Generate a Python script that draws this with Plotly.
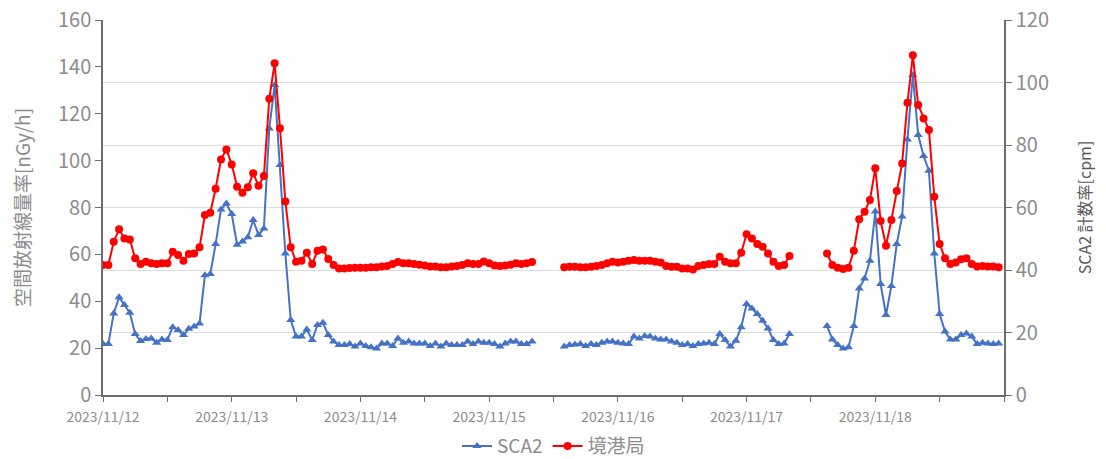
import pandas as pd
import plotly.graph_objects as go

# hourly timestamps, 2023/11/12 00:00 .. 2023/11/18 23:00
times = pd.date_range("2023-11-12 00:00", periods=168, freq="h")
# day tick positions / labels
day_ticks = pd.date_range("2023-11-12", periods=7, freq="D")
day_labels = ["2023/11/12", "2023/11/13", "2023/11/14", "2023/11/15",
              "2023/11/16", "2023/11/17", "2023/11/18"]

# 境港局 air dose rate [nGy/h]
red_day1 = [55.5, 55.5, 65.4, 70.7, 66.8, 66.4, 58.3, 55.9, 56.9, 56.2, 55.9, 56.2,
            56.2, 61.1, 59.7, 57.3, 60.2, 60.4, 63.0, 76.8, 77.8, 88.0, 100.5, 104.8]
red_day2 = [98.4, 88.9, 86.3, 88.6, 94.6, 89.3, 93.4, 126.4, 141.5, 113.8, 82.6, 63.0,
            56.9, 57.3, 60.7, 55.9, 61.6, 62.1, 58.0, 55.5, 54.0, 54.0, 54.2, 54.3]
red_day3 = [54.3, 54.3, 54.5, 54.5, 54.8, 55.0, 55.9, 56.7, 56.2, 56.2, 55.9, 55.6,
            55.3, 54.8, 54.8, 54.5, 54.5, 54.8, 55.0, 55.5, 56.2, 55.9, 55.9, 57.0]
red_day4 = [56.2, 55.3, 55.0, 55.3, 55.6, 56.2, 55.9, 56.2, 56.7, None, None, None,
            None, None, 54.5, 54.7, 54.7, 54.5, 54.5, 54.7, 55.0, 55.5, 56.2, 56.9]
red_day5 = [56.5, 56.9, 57.3, 57.6, 57.3, 57.3, 57.3, 56.9, 56.5, 55.0, 54.7, 54.7,
            54.0, 54.0, 53.6, 55.0, 55.5, 55.9, 55.9, 59.0, 56.9, 56.2, 56.2, 60.7]
red_day6 = [68.6, 66.8, 64.4, 63.3, 60.4, 56.9, 55.0, 55.5, 59.3, None, None, None,
            None, None, None, 60.4, 55.5, 54.3, 53.8, 54.3, 61.6, 75.0, 78.2, 83.2]
red_day7 = [96.7, 74.2, 63.7, 74.7, 87.0, 98.8, 124.7, 145.0, 123.7, 118.0, 113.1, 84.6,
            64.4, 58.3, 55.9, 56.5, 57.9, 58.3, 55.9, 54.8, 55.0, 54.8, 54.8, 54.5]

# SCA2 count rate [cpm]
sca_day1 = [16.3, 16.3, 26.1, 31.3, 28.8, 26.3, 19.5, 17.3, 17.9, 18.1, 16.7, 17.8,
            17.6, 21.7, 20.8, 19.2, 21.2, 21.9, 22.9, 38.3, 38.7, 48.3, 59.4, 61.3]
sca_day2 = [57.9, 48.1, 49.1, 50.5, 56.0, 51.2, 53.3, 85.3, 99.2, 73.6, 45.3, 24.0,
            18.7, 18.7, 21.0, 17.6, 22.4, 23.1, 19.2, 17.1, 16.0, 16.0, 16.3, 15.5]
sca_day3 = [16.5, 15.7, 15.3, 14.9, 16.5, 16.5, 15.7, 18.1, 16.7, 17.1, 16.5, 16.5,
            16.5, 15.7, 16.5, 15.5, 16.5, 16.0, 16.0, 16.0, 17.1, 16.3, 17.1, 16.7]
sca_day4 = [16.7, 16.3, 15.5, 16.5, 17.1, 17.1, 16.3, 16.3, 17.1, None, None, None,
            None, None, 15.5, 16.0, 16.2, 16.3, 15.7, 16.3, 16.0, 16.7, 17.1, 17.1]
sca_day5 = [16.7, 16.5, 16.3, 18.7, 18.1, 18.9, 18.7, 18.1, 17.8, 17.8, 17.1, 16.7,
            16.0, 16.3, 15.7, 16.3, 16.5, 16.7, 16.3, 19.5, 17.6, 15.5, 17.4, 21.7]
sca_day6 = [29.1, 27.7, 25.9, 23.8, 21.3, 17.6, 16.3, 16.5, 19.5, None, None, None,
            None, None, None, 22.1, 17.8, 16.0, 14.9, 15.3, 22.1, 34.1, 37.3, 43.0]
sca_day7 = [58.7, 35.5, 25.6, 34.9, 48.3, 57.1, 81.8, 102.4, 83.2, 76.5, 71.8, 45.3,
            25.9, 20.3, 17.8, 17.8, 19.2, 19.7, 18.7, 16.3, 16.7, 16.5, 16.3, 16.5]

red = red_day1 + red_day2 + red_day3 + red_day4 + red_day5 + red_day6 + red_day7
sca2 = sca_day1 + sca_day2 + sca_day3 + sca_day4 + sca_day5 + sca_day6 + sca_day7

FONT = "Noto Sans CJK JP, Noto Sans, sans-serif"
GRAY = "#8c8c8c"
AXIS = "#6e6e6e"

fig = go.Figure()
fig.add_trace(go.Scatter(
    x=times, y=sca2, name="SCA2", yaxis="y", mode="lines+markers",
    line=dict(color="#4472C4", width=2),
    marker=dict(symbol="triangle-up", size=8, color="#4472C4"),
    connectgaps=False))
fig.add_trace(go.Scatter(
    x=times, y=red, name="境港局", yaxis="y2", mode="lines+markers",
    line=dict(color="#FF0000", width=2),
    marker=dict(symbol="circle", size=8, color="#FF0000"),
    connectgaps=False))

fig.update_layout(
    width=1106, height=459,
    margin=dict(l=103, r=102, t=20, b=64, autoexpand=False),
    paper_bgcolor="white", plot_bgcolor="white",
    font=dict(family=FONT, color=GRAY),
    showlegend=True,
    legend=dict(orientation="h", x=0.5, xanchor="center",
                yref="container", y=0.028, yanchor="middle",
                font=dict(size=19, color=GRAY), itemwidth=30),
    xaxis=dict(
        type="date", range=["2023-11-12 00:00", "2023-11-19 00:00"],
        tickmode="array", tickvals=day_ticks, ticktext=day_labels,
        tickfont=dict(size=14, color=GRAY), ticklabelstandoff=3,
        ticks="outside", ticklen=5, tickcolor=AXIS,
        minor=dict(tickmode="linear", tick0="2023-11-12", dtick=43200000,
                   ticks="outside", ticklen=5, tickcolor=AXIS),
        showline=True, linecolor=AXIS, linewidth=1.5,
        showgrid=False, zeroline=False, automargin=False),
    yaxis=dict(
        side="right", range=[0, 120], dtick=20,
        tickfont=dict(size=20, color=GRAY),
        ticks="outside", ticklen=6, tickcolor=AXIS,
        showline=True, linecolor=AXIS, linewidth=1.5,
        showgrid=True, gridcolor="#dcdcdc", gridwidth=1, zeroline=False,
        automargin=False,
        title=dict(text="SCA2 計数率[cpm]", font=dict(size=16, color="#595959"), standoff=32)),
    yaxis2=dict(
        side="left", overlaying="y", range=[0, 160], dtick=20,
        tickfont=dict(size=20, color=GRAY),
        ticks="outside", ticklen=6, tickcolor=AXIS,
        showline=True, linecolor=AXIS, linewidth=1.5,
        showgrid=False, zeroline=False, automargin=False,
        title=dict(text="空間放射線量率[nGy/h]", font=dict(size=19, color=GRAY), standoff=22)),
)

fig.write_html("out.html")
